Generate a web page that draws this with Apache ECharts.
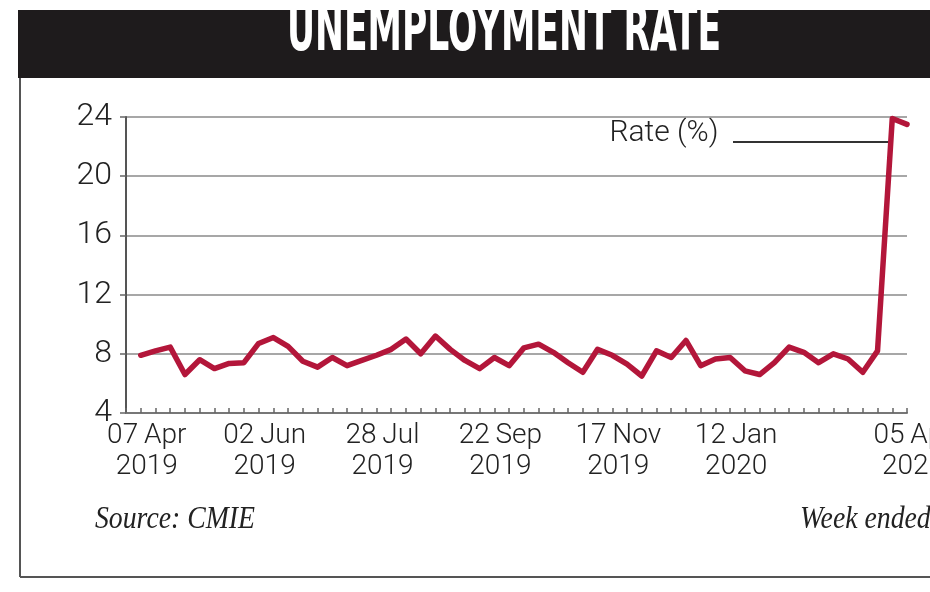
<!DOCTYPE html>
<html><head><meta charset="utf-8">
<script src="https://cdn.jsdelivr.net/npm/echarts@6/dist/echarts.min.js"></script>
<style>html,body{margin:0;padding:0;background:#fff;overflow:hidden}#c{width:930px;height:592px}</style>
</head><body><div id="c"></div>
<script>
// Week-ending dates (categories)
const weeks = [
 '07 Apr 2019','14 Apr 2019','21 Apr 2019','28 Apr 2019','05 May 2019','12 May 2019','19 May 2019','26 May 2019',
 '02 Jun 2019','09 Jun 2019','16 Jun 2019','23 Jun 2019','30 Jun 2019','07 Jul 2019','14 Jul 2019','21 Jul 2019',
 '28 Jul 2019','04 Aug 2019','11 Aug 2019','18 Aug 2019','25 Aug 2019','01 Sep 2019','08 Sep 2019','15 Sep 2019',
 '22 Sep 2019','29 Sep 2019','06 Oct 2019','13 Oct 2019','20 Oct 2019','27 Oct 2019','03 Nov 2019','10 Nov 2019',
 '17 Nov 2019','24 Nov 2019','01 Dec 2019','08 Dec 2019','15 Dec 2019','22 Dec 2019','29 Dec 2019','05 Jan 2020',
 '12 Jan 2020','19 Jan 2020','26 Jan 2020','02 Feb 2020','09 Feb 2020','16 Feb 2020','23 Feb 2020','01 Mar 2020',
 '08 Mar 2020','15 Mar 2020','22 Mar 2020','29 Mar 2020','05 Apr 2020'
];
// Unemployment rate (%)
const rate = [
 7.9, 8.2, 8.45, 6.6, 7.6, 7.0, 7.35, 7.4,
 8.7, 9.1, 8.5, 7.5, 7.1, 7.75, 7.2, 7.55,
 7.9, 8.3, 9.0, 8.0, 9.2, 8.3, 7.55, 7.0,
 7.75, 7.2, 8.4, 8.65, 8.1, 7.4, 6.75, 8.3,
 7.9, 7.3, 6.5, 8.2, 7.75, 8.9, 7.2, 7.65,
 7.75, 6.85, 6.6, 7.4, 8.45, 8.1, 7.4, 8.0,
 7.65, 6.75, 8.2, 23.9, 23.5
];
// X tick labels
const xLabelIndex = [0, 8, 16, 24, 32, 40, 52];
const xLabelText = ['07\u2009Apr\n2019', '02\u2009Jun\n2019', '28\u2009Jul\n2019', '22\u2009Sep\n2019', '17\u2009Nov\n2019', '12\u2009Jan\n2020', '05\u2009Apr\n2020'];
// Y ticks
const yTicks = [4, 8, 12, 16, 20, 24];

const titleText = 'UNEMPLOYMENT RATE';
const seriesName = 'Rate (%)';
const sourceText = 'Source: CMIE';
const noteText = 'Week ended';

function fitScale(text, font, target) {
  const ctx = document.createElement('canvas').getContext('2d');
  ctx.font = font;
  return target / ctx.measureText(text).width;
}
const titleFont = 'bold 62px "DejaVu Sans Condensed", "DejaVu Sans"';
const titleScale = fitScale(titleText, titleFont, 434);
const srcFont = 'italic 32px "Liberation Serif"';
const srcScale = fitScale(sourceText, srcFont, 160);

const chart = echarts.init(document.getElementById('c'), null, {renderer: 'canvas'});
chart.setOption({
  animation: false,
  backgroundColor: '#ffffff',
  grid: {left: 126, right: 23, top: 117, bottom: 179, containLabel: false, outerBoundsMode: 'none'},
  xAxis: {
    type: 'value', min: -1, max: weeks.length - 1, interval: 1,
    axisLine: {show: true, onZero: false, lineStyle: {color: '#777', width: 2}},
    axisTick: {show: true, inside: true, length: 5, lineStyle: {color: '#666', width: 1.5}},
    splitLine: {show: false},
    axisLabel: {
      show: true, showMinLabel: true, showMaxLabel: true, margin: 7, hideOverlap: false,
      padding: [0, 0, 0, 12],
      fontFamily: 'Roboto', fontWeight: 300, fontSize: 28, lineHeight: 31, color: '#222',
      formatter: function (v) { const k = xLabelIndex.indexOf(v); return k >= 0 ? xLabelText[k] : ''; }
    }
  },
  yAxis: {
    type: 'value', min: yTicks[0], max: yTicks[yTicks.length - 1], interval: 4,
    axisLine: {show: true, onZero: false, lineStyle: {color: '#555', width: 2}},
    axisTick: {show: true, length: 6, lineStyle: {color: '#666', width: 1.5}},
    splitLine: {show: true, lineStyle: {color: '#8a8a8a', width: 1.5}},
    axisLabel: {fontFamily: 'Roboto', fontWeight: 300, fontSize: 32, color: '#222', margin: 14,
      verticalAlign: 'middle', padding: [0, 0, 24, 0]}
  },
  series: [{
    name: seriesName, type: 'line', symbol: 'none', smooth: false,
    data: rate.map((v, i) => [i, v]),
    lineStyle: {color: '#b3163a', width: 5.5, join: 'round', cap: 'round'},
    z: 5
  }],
  graphic: [
    {type: 'rect', shape: {x: 18, y: 10, width: 912, height: 68}, style: {fill: '#1e1b1c'}},
    {type: 'text', x: 504, y: 34, scaleX: titleScale,
      style: {text: titleText, font: titleFont, fill: '#ffffff', textAlign: 'center', textVerticalAlign: 'middle'}},
    {type: 'line', shape: {x1: 20, y1: 78, x2: 20, y2: 577}, style: {stroke: '#555', lineWidth: 2}},
    {type: 'line', shape: {x1: 20, y1: 577, x2: 930, y2: 577}, style: {stroke: '#555', lineWidth: 2}},
    {type: 'text', x: 664, y: 133,
      style: {text: seriesName, font: '300 30px Roboto', fill: '#222', textAlign: 'center', textVerticalAlign: 'middle'}},
    {type: 'line', shape: {x1: 733, y1: 142, x2: 893, y2: 142}, style: {stroke: '#333', lineWidth: 2}},
    {type: 'text', x: 95, y: 520, scaleX: srcScale,
      style: {text: sourceText, font: srcFont, fill: '#222', textAlign: 'left', textVerticalAlign: 'middle'}},
    {type: 'text', x: 800, y: 520, scaleX: srcScale,
      style: {text: noteText, font: srcFont, fill: '#222', textAlign: 'left', textVerticalAlign: 'middle'}}
  ]
});
</script>
</body></html>
